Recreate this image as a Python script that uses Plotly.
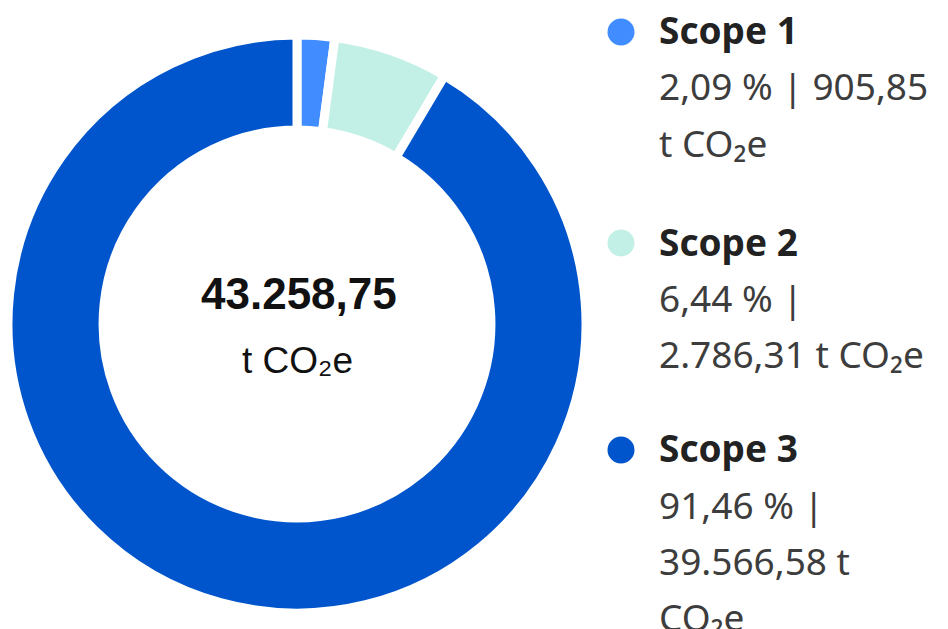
import plotly.graph_objects as go

# data
scopes = ["Scope 1", "Scope 2", "Scope 3"]
emissions = [905.85, 2786.31, 39566.58]
shares = [2.09, 6.44, 91.46]
total_label = "43.258,75"
unit = "t CO₂e"
colors = ["#418DFF", "#C3F0E6", "#0055CC"]

# legend text as it wraps in the original
legend_lines = [
    ["2,09 % | 905,85", "t CO₂e"],
    ["6,44 % |", "2.786,31 t CO₂e"],
    ["91,46 % |", "39.566,58 t", "CO₂e"],
]

W, H = 948, 629

def px_x(x):
    return x / W

def px_y(y):
    return (H - y) / H

# donut geometry (pixels)
cx, cy, r_out = 297, 324, 289

fig = go.Figure()
fig.add_trace(go.Pie(
    labels=scopes,
    values=emissions,
    hole=0.671,
    sort=False,
    direction="clockwise",
    rotation=0,
    textinfo="none",
    hoverinfo="label+value+percent",
    marker=dict(colors=colors, line=dict(color="white", width=9)),
    domain=dict(x=[px_x(cx - r_out), px_x(cx + r_out)],
                y=[px_y(cy + r_out), px_y(cy - r_out)]),
    showlegend=False,
))

annotations = [
    dict(text="<b>" + total_label + "</b>", x=px_x(cx + 2), y=px_y(293),
         font=dict(family="Liberation Sans", size=44, color="#111111")),
    dict(text=unit, x=px_x(cx), y=px_y(360),
         font=dict(family="Liberation Sans", size=37, color="#111111")),
]

shapes = []
# custom legend
title_y = [30, 241, 448]
line_gap = 56
dot_x, dot_r, text_x = 621, 13.5, 657
for i, name in enumerate(scopes):
    y0 = title_y[i]
    shapes.append(dict(type="circle", xref="paper", yref="paper",
                       x0=px_x(dot_x - dot_r), x1=px_x(dot_x + dot_r),
                       y0=px_y(y0 + 2 + dot_r), y1=px_y(y0 + 2 - dot_r),
                       fillcolor=colors[i], line=dict(width=0)))
    annotations.append(dict(text="<b>" + name + "</b>", x=px_x(text_x), y=px_y(y0),
                            xanchor="left",
                            font=dict(family="Noto Sans", size=37, color="#222222")))
    for j, txt in enumerate(legend_lines[i]):
        annotations.append(dict(text=txt, x=px_x(text_x), y=px_y(y0 + line_gap * (j + 1)),
                                xanchor="left",
                                font=dict(family="Noto Sans", size=37, color="#3d3d3d")))

for a in annotations:
    a.update(xref="paper", yref="paper", showarrow=False, yanchor="middle")
    a.setdefault("xanchor", "center")

fig.update_layout(
    width=W, height=H,
    margin=dict(l=0, r=0, t=0, b=0),
    paper_bgcolor="white",
    plot_bgcolor="white",
    annotations=annotations,
    shapes=shapes,
)

# drop the default 8px page margin so the figure sits at the window corner
fig.write_html("out.html", config={"displayModeBar": False},
               post_script="document.body.style.margin='0';")
